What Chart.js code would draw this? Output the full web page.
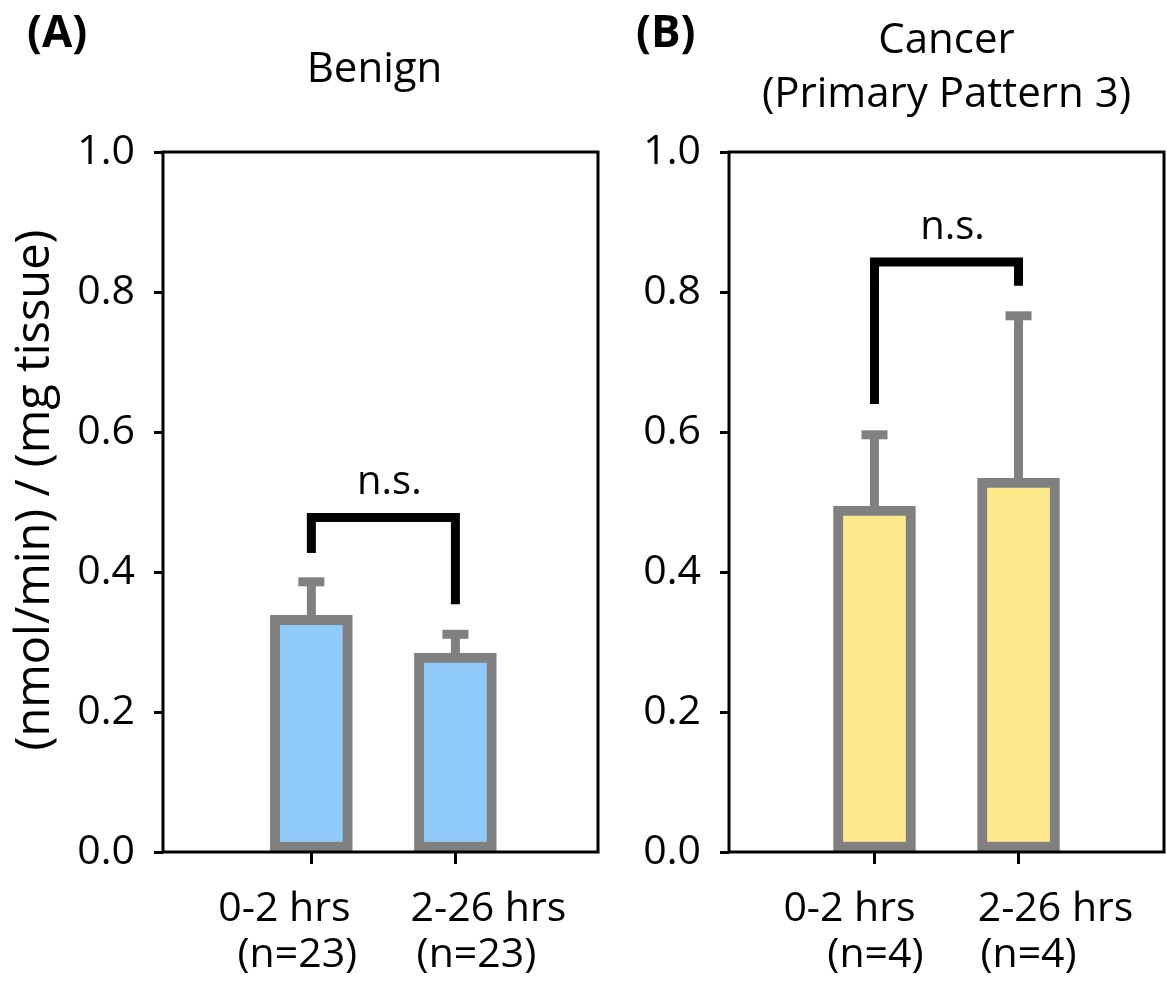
<!DOCTYPE html>
<html lang="en">
<head>
<meta charset="UTF-8" />
<title>Activity: Benign vs Cancer</title>
<script src="https://cdn.jsdelivr.net/npm/chart.js"></script>
<style>
  body { margin: 0; background: #fff; }
  #wrap { position: relative; width: 1167px; height: 985px; }
  canvas { position: absolute; top: 0; }
  #chartA { left: 0; }
  #chartB { left: 610px; }
</style>
</head>
<body>
<div id="wrap">
  <canvas id="chartA" width="610" height="985"></canvas>
  <canvas id="chartB" width="557" height="985"></canvas>
</div>
<script>
  // values
  const categories = ['0-2 hrs', '2-26 hrs'];
  const benignN = ['(n=23)', '(n=23)'];
  const cancerN = ['(n=4)', '(n=4)'];
  const benignMeans = [0.338, 0.284];
  const benignErrTop = [0.386, 0.311];
  const cancerMeans = [0.494, 0.534];
  const cancerErrTop = [0.596, 0.766];
  // significance brackets: left foot, top, right foot
  const benignBracket = [0.427, 0.478, 0.354];
  const cancerBracket = [0.640, 0.843, 0.809];
  const yTicks = [0, 0.2, 0.4, 0.6, 0.8, 1.0];

  const FONT = '"Open Sans", "Noto Sans", sans-serif';
  const GRAY = '#808080';
  Chart.defaults.font.family = FONT;
  Chart.defaults.color = '#000';

  function panelPlugin(cfg) {
    return {
      id: 'panel',
      afterDatasetsDraw(chart) {
        const { ctx, chartArea: a } = chart;
        const x = chart.scales.x, y = chart.scales.y;
        ctx.save();

        // error bars (upper only)
        ctx.strokeStyle = GRAY;
        ctx.lineWidth = 9;
        ctx.lineCap = 'butt';
        cfg.means.forEach((m, i) => {
          const px = x.getPixelForValue(i);
          const top = y.getPixelForValue(cfg.errTop[i]);
          ctx.beginPath();
          ctx.moveTo(px, y.getPixelForValue(m));
          ctx.lineTo(px, top);
          ctx.stroke();
          ctx.beginPath();
          ctx.moveTo(px - 13, top);
          ctx.lineTo(px + 13, top);
          ctx.stroke();
        });

        // n.s. bracket
        const x0 = x.getPixelForValue(0), x1 = x.getPixelForValue(1);
        const yT = y.getPixelForValue(cfg.bracket[1]);
        ctx.strokeStyle = '#000';
        ctx.lineJoin = 'miter';
        ctx.beginPath();
        ctx.moveTo(x0, y.getPixelForValue(cfg.bracket[0]));
        ctx.lineTo(x0, yT);
        ctx.lineTo(x1, yT);
        ctx.lineTo(x1, y.getPixelForValue(cfg.bracket[2]));
        ctx.stroke();
        ctx.fillStyle = '#000';
        ctx.font = '40px ' + FONT;
        ctx.textAlign = 'center';
        ctx.textBaseline = 'alphabetic';
        ctx.fillText('n.s.', (x0 + x1) / 2 + 6, yT - 23);

        // box spines
        ctx.lineWidth = 3;
        ctx.strokeRect(a.left, a.top, a.right - a.left, a.bottom - a.top);
        ctx.restore();
      },
      afterDraw(chart) {
        const { ctx, chartArea: a } = chart;
        const x = chart.scales.x;
        const cx = (a.left + a.right) / 2;
        ctx.save();
        ctx.fillStyle = '#000';
        ctx.textBaseline = 'alphabetic';
        ctx.textAlign = 'left';
        ctx.font = 'bold 44px ' + FONT;
        ctx.fillText(cfg.letter, cfg.letterX, 47);
        ctx.textAlign = 'center';
        ctx.font = '42px ' + FONT;
        cfg.title.forEach((t, i) => ctx.fillText(t, cx + cfg.titleShift, cfg.titleY[i]));
        ctx.font = '41px ' + FONT;
        categories.forEach((c, i) => {
          const px = x.getPixelForValue(i);
          ctx.fillText(c, px + cfg.lab1Shift[i], 921);
          ctx.fillText(cfg.nLabels[i], px + cfg.lab2Shift[i], 967);
        });
        // y axis title
        if (cfg.yTitle) {
          ctx.translate(36, 490);
          ctx.rotate(-Math.PI / 2);
          ctx.font = '47px ' + FONT;
          ctx.textBaseline = 'middle';
          ctx.fillText(cfg.yTitle, 0, 0);
        }
        ctx.restore();
      }
    };
  }

  function makeChart(id, cfg) {
    return new Chart(document.getElementById(id), {
      type: 'bar',
      data: {
        datasets: [{
          data: cfg.means.map((v, i) => ({ x: i, y: v })),
          backgroundColor: cfg.fill,
          borderColor: GRAY,
          borderWidth: 10,
          borderSkipped: false,
          barThickness: 82
        }]
      },
      options: {
        responsive: false,
        animation: false,
        events: [],
        layout: { padding: { top: 152, right: cfg.padRight, left: 0, bottom: 0 } },
        plugins: { legend: { display: false }, tooltip: { enabled: false } },
        scales: {
          x: {
            type: 'linear',
            min: cfg.xMin,
            max: cfg.xMax,
            offset: false,
            afterBuildTicks: s => { s.ticks = categories.map((c, i) => ({ value: i })); },
            afterFit: s => { s.height = 133; },
            ticks: { display: false },
            border: { display: false },
            grid: { drawOnChartArea: false, offset: false, drawTicks: true, tickLength: 12, tickWidth: 3, tickColor: '#000' }
          },
          y: {
            min: 0,
            max: 1,
            afterBuildTicks: s => { s.ticks = yTicks.map(v => ({ value: v })); },
            afterFit: s => { s.width = cfg.yWidth; },
            ticks: { padding: 19, font: { size: 41 }, color: '#000', callback: v => v.toFixed(1) },
            border: { display: false },
            grid: { drawOnChartArea: false, drawTicks: true, tickLength: 9, tickWidth: 3, tickColor: '#000' }
          }
        }
      },
      plugins: [panelPlugin(cfg)]
    });
  }

  makeChart('chartA', {
    means: benignMeans, errTop: benignErrTop, bracket: benignBracket,
    nLabels: benignN, fill: '#90CAF9',
    letter: '(A)', letterX: 27, title: ['Benign'], titleY: [82], titleShift: -6,
    lab1Shift: [-27, 33], lab2Shift: [-14, 21],
    xMin: -1.03, xMax: 1.99, yWidth: 163, padRight: 12,
    yTitle: '(nmol/min) / (mg tissue)'
  });

  makeChart('chartB', {
    means: cancerMeans, errTop: cancerErrTop, bracket: cancerBracket,
    nLabels: cancerN, fill: '#FDE98C',
    letter: '(B)', letterX: 26, title: ['Cancer', '(Primary Pattern 3)'], titleY: [53, 107], titleShift: 0,
    lab1Shift: [-25, 37], lab2Shift: [1, 10],
    xMin: -1.01, xMax: 2.01, yWidth: 119, padRight: 3,
    yTitle: ''
  });
</script>
</body>
</html>
